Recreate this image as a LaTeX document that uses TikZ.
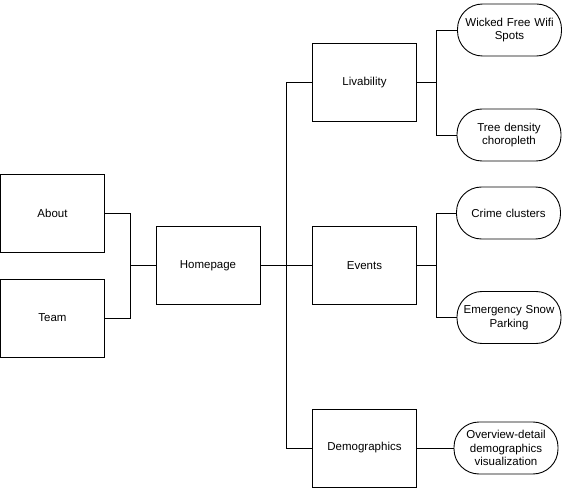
\documentclass[tikz,border=0pt]{standalone}
\usepackage{fontspec}
\setmainfont{Liberation Sans}
\begin{document}
\begin{tikzpicture}[x=1pt,y=-1pt,
  box/.style={draw=black,line width=0.9pt,minimum width=104pt,minimum height=78pt,inner sep=0pt,font=\fontsize{11.5}{13}\selectfont,align=center},
  pill/.style={draw=black,line width=0.9pt,minimum width=104pt,minimum height=52pt,inner sep=0pt,rounded corners=25pt,font=\fontsize{11.5}{13.5}\selectfont,align=center,text width=100pt},
  link/.style={draw=black,line width=0.9pt}]
\useasboundingbox (0,0) rectangle (568,497);
\node[box] (about) at (52.5,213) {About};
\node[box] (team) at (52.5,318) {Team};
\node[box] (home) at (208,265.5) {Homepage};
\node[box] (liv) at (364.5,82.5) {Livability};
\node[box] (evt) at (364.5,265.5) {Events};
\node[box] (demo) at (364.5,448) {Demographics};
\node[pill] (wifi) at (509.5,30) {Wicked Free Wifi\\Spots};
\node[pill] (tree) at (509,135) {Tree density\\choropleth};
\node[pill] (crime) at (508.5,213) {Crime clusters};
\node[pill] (snow) at (509,317.5) {Emergency Snow\\Parking};
\node[pill] (over) at (506,448) {Overview-detail\\demographics\\visualization};
\coordinate (j1) at (130,265.5);
\coordinate (j2) at (286,265.5);
\coordinate (j3) at (436,82.5);
\coordinate (j4) at (436,265.5);
\draw[link] (about.east) -| (j1);
\draw[link] (team.east) -| (j1);
\draw[link] (j1) -- (home.west);
\draw[link] (home.east) -- (evt.west);
\draw[link] (liv.west) -| (j2);
\draw[link] (demo.west) -| (j2);
\draw[link] (liv.east) -- (j3);
\draw[link] (wifi.west) -| (j3);
\draw[link] (tree.west) -| (j3);
\draw[link] (evt.east) -- (j4);
\draw[link] (crime.west) -| (j4);
\draw[link] (snow.west) -| (j4);
\draw[link] (demo.east) -- (over.west);
\end{tikzpicture}
\end{document}
